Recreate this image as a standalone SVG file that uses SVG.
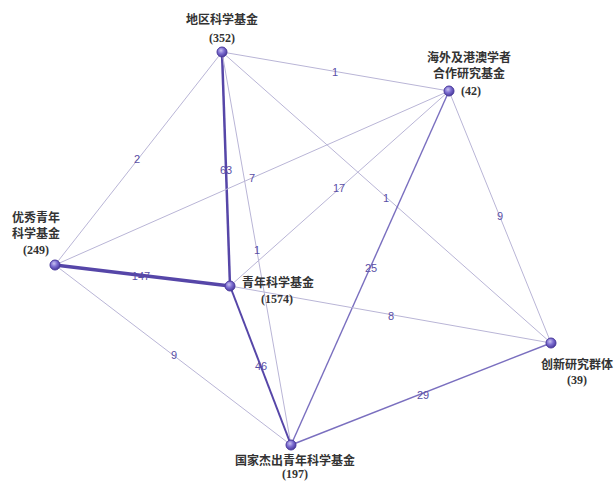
<svg xmlns="http://www.w3.org/2000/svg" width="616" height="482" viewBox="0 0 616 482">
<defs>
<radialGradient id="ng" cx="40%" cy="35%" r="65%">
<stop offset="0" stop-color="#c9c2f0"/>
<stop offset="0.5" stop-color="#7b6cd0"/>
<stop offset="1" stop-color="#4a3a9c"/>
</radialGradient>
<style>
.e{stroke:#b9b5d6;fill:none;stroke-width:1}
.m{stroke:#7a6fbf;fill:none}
.h{stroke:#5646a8;fill:none}
.el{font-family:"Liberation Sans",Arial,sans-serif;font-size:11px;fill:#5a4fa6;text-anchor:middle;dominant-baseline:central}
.nl{font-family:"Liberation Serif","Noto Sans CJK SC",serif;font-size:12px;font-weight:bold;fill:#333;text-anchor:middle}
.nc{fill:url(#ng);stroke:#4a3a9c;stroke-width:1}
</style>
</defs>
<rect width="616" height="482" fill="#fff"/>
<g id="connectors">
<line class="e" x1="222" y1="52" x2="449" y2="91"/>
<line class="e" x1="222" y1="52" x2="55" y2="265"/>
<line class="h" stroke-width="2.5" x1="222" y1="52" x2="230" y2="286"/>
<line class="e" x1="222" y1="52" x2="551" y2="343"/>
<line class="e" x1="222" y1="52" x2="291" y2="445"/>
<line class="e" x1="449" y1="91" x2="55" y2="265"/>
<line class="e" stroke="#a9a4cf" x1="449" y1="91" x2="230" y2="286"/>
<line class="m" stroke-width="1.4" x1="449" y1="91" x2="291" y2="445"/>
<line class="e" x1="449" y1="91" x2="551" y2="343"/>
<line class="h" stroke-width="3.5" x1="55" y1="265" x2="230" y2="286"/>
<line class="e" x1="55" y1="265" x2="291" y2="445"/>
<line class="h" stroke-width="2" x1="230" y1="286" x2="291" y2="445"/>
<line class="e" stroke="#a9a4cf" x1="230" y1="286" x2="551" y2="343"/>
<line class="m" stroke-width="1.4" x1="291" y1="445" x2="551" y2="343"/>
<text class="el" x="335" y="72">1</text>
<text class="el" x="137" y="159">2</text>
<text class="el" x="226" y="170">63</text>
<text class="el" x="386" y="198">1</text>
<text class="el" x="257" y="250">1</text>
<text class="el" x="252" y="178">7</text>
<text class="el" x="339" y="188">17</text>
<text class="el" x="371" y="268">25</text>
<text class="el" x="500" y="216">9</text>
<text class="el" x="141" y="276">147</text>
<text class="el" x="174" y="355">9</text>
<text class="el" x="261" y="366">46</text>
<text class="el" x="391" y="316">8</text>
<text class="el" x="423" y="395">29</text>
</g>
<g id="n-diqu">
<circle class="nc" cx="222" cy="52" r="5"/>
<text class="nl" x="222" y="24">地区科学基金</text>
<text class="nl" x="222" y="42">(352)</text>
</g>
<g id="n-haiwai">
<circle class="nc" cx="449" cy="91" r="5"/>
<text class="nl" x="469" y="62">海外及港澳学者</text>
<text class="nl" x="469" y="78">合作研究基金</text>
<text class="nl" x="471" y="95">(42)</text>
</g>
<g id="n-youxiu">
<circle class="nc" cx="55" cy="265" r="5"/>
<text class="nl" x="36" y="222">优秀青年</text>
<text class="nl" x="36" y="238">科学基金</text>
<text class="nl" x="36" y="254">(249)</text>
</g>
<g id="n-qingnian">
<circle class="nc" cx="230" cy="286" r="5"/>
<text class="nl" x="278" y="287">青年科学基金</text>
<text class="nl" x="277" y="303">(1574)</text>
</g>
<g id="n-chuangxin">
<circle class="nc" cx="551" cy="343" r="5"/>
<text class="nl" x="577" y="369">创新研究群体</text>
<text class="nl" x="577" y="384">(39)</text>
</g>
<g id="n-guojia">
<circle class="nc" cx="291" cy="445" r="5"/>
<text class="nl" x="295" y="465">国家杰出青年科学基金</text>
<text class="nl" x="295" y="478">(197)</text>
</g>
</svg>
